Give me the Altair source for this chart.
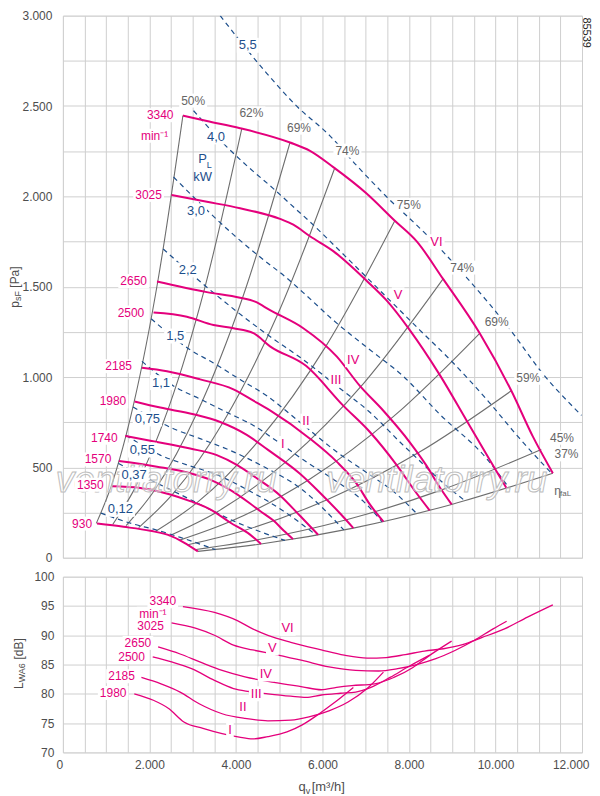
import altair as alt
import pandas as pd

FONT = "Liberation Sans"
MAG = "#e4007c"
BLUE = "#1d4f8c"
EFFC = "#6e6e6e"
GRIDC = "#cfcfcf"
AXC = "#4d4d4d"

W = 520
H_TOP = 543
H_BOT = 176

# ---------------- top panel: pressure curves per speed ----------------
speed_names = ["930", "1350", "1570", "1740", "1980", "2185", "2500", "2650", "3025", "3340"]
q_930 = [789, 1403, 2019, 2481, 2788, 3120]
p_930 = [189, 171, 149, 122, 85, 35]
q_1350 = [1133, 1788, 2481, 2942, 3404, 3865, 4327, 4580]
p_1350 = [395, 386, 350, 313, 268, 195, 128, 76]
q_1570 = [1292, 2174, 2942, 3404, 3865, 4327, 4558, 4875, 5108, 5320]
p_1570 = [535, 504, 468, 432, 375, 300, 259, 204, 149, 103]
q_1740 = [1442, 2174, 2942, 3558, 4020, 4481, 5019, 5481, 5900]
p_1740 = [674, 641, 604, 568, 514, 440, 345, 232, 127]
q_1980 = [1657, 2250, 3020, 3635, 4250, 4742, 5481, 5942, 6404, 6714]
p_1980 = [865, 831, 794, 751, 680, 597, 465, 360, 246, 164]
q_2185 = [1828, 2405, 3173, 3942, 4404, 4788, 5712, 6328, 6789, 7096, 7410]
p_2185 = [1051, 1032, 987, 932, 869, 815, 659, 532, 410, 295, 200]
q_2500 = [2095, 2866, 3480, 3942, 4404, 4788, 5619, 6480, 7096, 7712, 8150, 8478]
p_2500 = [1357, 1334, 1288, 1270, 1243, 1170, 1062, 842, 696, 514, 365, 262]
q_2650 = [2174, 3328, 4096, 4442, 4788, 5557, 6328, 6865, 7403, 8019, 8404, 8711, 8986]
p_2650 = [1529, 1470, 1439, 1417, 1370, 1270, 1114, 951, 815, 639, 510, 390, 295]
q_3025 = [2512, 3328, 4096, 5019, 5327, 5712, 6250, 7020, 7482, 8019, 8711, 9328, 9865, 10258]
p_3025 = [2007, 1970, 1934, 1875, 1843, 1779, 1697, 1533, 1424, 1260, 1012, 761, 542, 384]
q_3340 = [2774, 3328, 4096, 5250, 5712, 6250, 7020, 7673, 8174, 8788, 9635, 10366, 10865, 11326]
p_3340 = [2447, 2417, 2377, 2298, 2252, 2162, 2016, 1865, 1752, 1543, 1242, 924, 670, 468]

# efficiency lines (gray)
eff_names = ["e50", "e62", "e69a", "e74a", "e75", "e74b", "e69b", "e59", "e45", "e37"]
q_e50 = [772, 1121, 1644, 2201, 2774]
p_e50 = [190, 400, 860, 1540, 2447]
q_e62 = [1151, 1671, 2451, 3281, 4135]
p_e62 = [184, 388, 835, 1495, 2375]
q_e69a = [1462, 2122, 3112, 4165, 5250]
p_e69a = [178, 375, 808, 1447, 2298]
q_e74a = [1751, 2542, 3728, 4989, 6288]
p_e74a = [167, 353, 759, 1360, 2160]
q_e75 = [2136, 3101, 4549, 6088, 7673]
p_e75 = [145, 305, 655, 1174, 1865]
q_e74b = [2447, 3552, 5209, 6972, 8788]
p_e74b = [120, 252, 542, 971, 1543]
q_e69b = [2683, 3894, 5712, 7644, 9635]
p_e69b = [96, 203, 436, 782, 1242]
q_e59 = [2886, 4190, 6145, 8224, 10366]
p_e59 = [72, 151, 325, 582, 924]
q_e45 = [3079, 4470, 6555, 8773, 11058]
p_e45 = [46, 98, 210, 377, 599]
q_e37 = [3120, 4578, 6714, 8986, 11326]
p_e37 = [35, 76, 164, 295, 468]

# shaft power lines (dashed)
pow_names = ["5,5", "4,0", "3,0", "2,2", "1,5", "1,1", "0,75", "0,55", "0,37", "0,12"]
q_p55 = [3635, 4712, 5405, 6173, 6789, 7482, 8404, 9327, 10403, 11019, 11988]
p_p55 = [3000, 2681, 2499, 2335, 2171, 1998, 1788, 1552, 1242, 1041, 788]
q_p40 = [3020, 3788, 4250, 4865, 5405, 5712, 6173, 7020, 7712, 8250, 9019, 9788, 10558, 11300]
p_p40 = [2474, 2274, 2170, 2043, 1925, 1859, 1752, 1552, 1388, 1260, 1079, 878, 660, 466]
q_p30 = [2557, 3404, 3942, 4558, 5174, 5635, 6249, 7096, 7865, 8711, 9789, 10308]
p_p30 = [2107, 1907, 1788, 1664, 1548, 1450, 1315, 1151, 1005, 794, 550, 388]
q_p22 = [2318, 3328, 4788, 5557, 6328, 7096, 7865, 8174, 8827, 9296]
p_p22 = [1709, 1497, 1224, 1096, 951, 805, 623, 553, 406, 315]
q_p15 = [2040, 2942, 3480, 4096, 4712, 5481, 6328, 7096, 7650, 8180]
p_p15 = [1323, 1151, 1078, 986, 896, 750, 586, 459, 365, 244]
q_p11 = [1828, 2557, 3173, 3788, 4403, 4973, 5557, 6328, 6942, 7378]
p_p11 = [1087, 951, 878, 805, 732, 641, 542, 422, 313, 199]
q_p075 = [1620, 2557, 3173, 3942, 4712, 5481, 6494]
p_p075 = [834, 714, 659, 586, 495, 386, 154]
q_p055 = [1460, 2250, 2866, 3558, 4327, 5096, 5856]
p_p055 = [678, 568, 514, 459, 368, 259, 125]
q_p037 = [1281, 2095, 2712, 3327, 3942, 4712, 5131]
p_p037 = [522, 422, 350, 276, 204, 131, 96]
q_p012 = [881, 1634, 2095, 2712, 3526]
p_p012 = [247, 186, 158, 113, 45]

# labels top panel
top_spd_t = ["3340", "3025", "2650", "2500", "2185", "1980", "1740", "1570", "1350", "930", "min\u207b\u00b9"]
top_spd_x = [2557, 2289, 1943, 1881, 1597, 1465, 1265, 1119, 942, 674, 2435]
top_spd_y = [2449, 2008, 1531, 1357, 1060, 865, 664, 544, 404, 189, 2335]
roman_t = ["VI", "V", "IV", "III", "II", "I"]
top_rom_x = [8635, 7749, 6711, 6312, 5619, 5082]
top_rom_y = [1749, 1455, 1096, 984, 756, 632]
eff_lbl_t = ["50%", "62%", "69%", "74%", "75%", "74%", "69%", "59%", "45%", "37%"]
eff_lbl_x = [3012, 4357, 5458, 6577, 7996, 9231, 10027, 10758, 11538, 11642]
eff_lbl_y = [2530, 2459, 2380, 2253, 1953, 1606, 1306, 996, 664, 572]
pow_lbl_x = [4274, 3538, 3076, 2885, 2596, 2269, 1954, 1835, 1646, 1327]
pow_lbl_y = [2836, 2329, 1920, 1593, 1227, 969, 768, 596, 459, 268]

# ---------------- bottom panel: sound power ----------------
bot_names = ["I", "II", "III", "IV", "V", "VI"]
lq_I = [1650, 2091, 2444, 2797, 3238, 3680, 4077, 4386, 4739, 5180, 5533, 5886, 6239, 6714]
lw_I = [80.0, 78.9, 77.5, 75.2, 74.1, 73.2, 72.6, 72.3, 72.7, 73.5, 74.7, 76.4, 78.3, 81.1]
lq_II = [1815, 2268, 2709, 3150, 3680, 4209, 4739, 5268, 5709, 6150, 6592, 7033, 7410]
lw_II = [82.8, 81.7, 80.3, 78.3, 76.6, 75.8, 75.4, 75.5, 76.1, 77.1, 78.6, 80.9, 83.7]
lq_III = [2076, 2533, 2974, 3503, 3944, 4297, 4739, 5268, 5621, 5974, 6415, 6768, 7121, 7562, 8004, 8478]
lw_III = [86.3, 85.4, 84.3, 82.3, 80.9, 80.4, 80.0, 79.6, 79.4, 79.8, 80.1, 80.3, 81.1, 82.8, 84.7, 86.6]
lq_IV = [2201, 2709, 3150, 3680, 4209, 4915, 5533, 5974, 6327, 6680, 7209, 7650, 8092, 8445, 8986]
lw_IV = [88.0, 86.8, 85.5, 84.0, 82.9, 81.9, 81.2, 80.7, 81.1, 81.4, 81.7, 82.8, 84.5, 86.4, 89.0]
lq_V = [2512, 3062, 3503, 3944, 4386, 4915, 5533, 6150, 6768, 7297, 7739, 8180, 8621, 9062, 9504, 9945, 10258]
lw_V = [92.1, 91.2, 90.0, 88.3, 87.5, 86.7, 85.7, 84.6, 84.0, 83.9, 84.3, 85.0, 86.0, 87.4, 89.1, 91.1, 92.4]
lq_VI = [2774, 3503, 4033, 4386, 4739, 5268, 5974, 6503, 7033, 7474, 7915, 8356, 8797, 9239, 9680, 10209, 10739, 11326]
lw_VI = [94.9, 93.9, 92.5, 91.1, 90.0, 88.8, 87.5, 86.6, 86.1, 86.2, 86.7, 87.3, 87.7, 88.4, 89.6, 91.1, 93.1, 95.2]

bot_spd_t = ["3340", "min\u207b\u00b9", "3025", "2650", "2500", "2185", "1980"]
bot_spd_x = [2617, 2396, 2335, 2042, 1895, 1664, 1470]
bot_spd_y = [95.8, 93.66, 91.55, 88.7, 86.3, 83.0, 80.15]
bot_rom_x = [5194, 4841, 4691, 4470, 4161, 3861]
bot_rom_y = [91.2, 87.8, 83.4, 80.0, 77.7, 73.8]

watermark_t = ["ventilatorry.ru", "ventilatorry.ru"]
watermark_x = [2388, 8642]
watermark_y = [422, 427]

# approximate glyph widths (em) used only to size the white label boxes
CW = {",": 0.278, ".": 0.278, "%": 0.889, "V": 0.667, "I": 0.278, "m": 0.833,
      "i": 0.222, "n": 0.556, "\u207b": 0.35, "\u00b9": 0.35}


def long_df(names, qs, vs):
    rows = []
    for n, q, v in zip(names, qs, vs):
        for i, (a, b) in enumerate(zip(q, v)):
            rows.append({"s": n, "x": a, "y": b, "i": i})
    return pd.DataFrame(rows)


def lbl_df(t, x, y):
    return pd.DataFrame({"t": t, "x": x, "y": y})


def box_df(t, x, y, fs, align):
    paths = []
    for s in t:
        tw = sum(CW.get(c, 0.556) for c in s) * fs
        w = tw + 4
        h = fs + 2
        if align == "right":
            x0, x1 = -tw - 2, 2
        elif align == "left":
            x0, x1 = -2, tw + 2
        else:
            x0, x1 = -w / 2, w / 2
        paths.append("M%.3f,%.3fH%.3fV%.3fH%.3fZ" % (x0 / 10, -h / 20, x1 / 10, h / 20, x0 / 10))
    return pd.DataFrame({"x": x, "y": y, "path": paths})


df_speed = long_df(speed_names,
                   [q_930, q_1350, q_1570, q_1740, q_1980, q_2185, q_2500, q_2650, q_3025, q_3340],
                   [p_930, p_1350, p_1570, p_1740, p_1980, p_2185, p_2500, p_2650, p_3025, p_3340])
df_eff = long_df(eff_names,
                 [q_e50, q_e62, q_e69a, q_e74a, q_e75, q_e74b, q_e69b, q_e59, q_e45, q_e37],
                 [p_e50, p_e62, p_e69a, p_e74a, p_e75, p_e74b, p_e69b, p_e59, p_e45, p_e37])
df_pow = long_df(pow_names,
                 [q_p55, q_p40, q_p30, q_p22, q_p15, q_p11, q_p075, q_p055, q_p037, q_p012],
                 [p_p55, p_p40, p_p30, p_p22, p_p15, p_p11, p_p075, p_p055, p_p037, p_p012])
df_lw = long_df(bot_names, [lq_I, lq_II, lq_III, lq_IV, lq_V, lq_VI],
                [lw_I, lw_II, lw_III, lw_IV, lw_V, lw_VI])

fmt = "replace(format(datum.value, ','), ',', '.')"
xs = alt.Scale(domain=[0, 12000], nice=False, zero=False)
ys_top = alt.Scale(domain=[0, 3000], nice=False, zero=False)
ys_bot = alt.Scale(domain=[70, 100], nice=False, zero=False)

ax_x_top = alt.Axis(values=list(range(0, 12001, 500)), labels=False, ticks=False, domain=False,
                    grid=True, gridColor=GRIDC, gridWidth=1, title=None)
ax_y_top = alt.Axis(values=list(range(0, 3001, 250)),
                    labelExpr="datum.value % 500 == 0 ? " + fmt + " : ''",
                    ticks=False, domain=False, grid=True, gridColor=GRIDC, gridWidth=1,
                    labelPadding=11, labelFontSize=12, labelFont=FONT, labelColor=AXC,
                    labelOverlap=False, title=None)
ax_x_bot = alt.Axis(values=list(range(0, 12001, 500)),
                    labelExpr="datum.value % 2000 == 0 ? " + fmt + " : ''",
                    ticks=False, domain=False, grid=True, gridColor=GRIDC, gridWidth=1,
                    labelPadding=7, labelFontSize=12, labelFont=FONT, labelColor=AXC,
                    labelOverlap=False, labelFlush=True, labelFlushOffset=7, title=None)
ax_y_bot = alt.Axis(values=[70, 75, 80, 85, 90, 95, 100], ticks=False, domain=False, grid=True,
                    gridColor=GRIDC, gridWidth=1, labelPadding=9, labelFontSize=12,
                    labelFont=FONT, labelColor=AXC, labelOverlap=False, title=None)

XT = alt.X("x:Q", scale=xs, axis=ax_x_top)
YT = alt.Y("y:Q", scale=ys_top, axis=ax_y_top)
XB = alt.X("x:Q", scale=xs, axis=ax_x_bot)
YB = alt.Y("y:Q", scale=ys_bot, axis=ax_y_bot)


def lines(df, X, Y, color, width, dash=None):
    kw = dict(color=color, strokeWidth=width, interpolate="monotone", clip=True)
    if dash:
        kw["strokeDash"] = dash
    return alt.Chart(df).mark_line(**kw).encode(x=X, y=Y, detail="s:N", order="i:Q")


def labels(t, x, y, X, Y, color, fs, align="center", box=True):
    out = []
    if box:
        out.append(alt.Chart(box_df(t, x, y, fs, align)).mark_point(
            filled=True, color="white", opacity=1, strokeWidth=0, size=400
        ).encode(x=X, y=Y, shape=alt.Shape("path:N", scale=None)))
    out.append(alt.Chart(lbl_df(t, x, y)).mark_text(
        align=align, baseline="middle", font=FONT, fontSize=fs, color=color
    ).encode(x=X, y=Y, text="t:N"))
    return out


def ptext(t, x, y, size, color, align="left", angle=0, baseline="middle"):
    return alt.Chart(pd.DataFrame({"t": [t]})).mark_text(
        align=align, baseline=baseline, angle=angle, font=FONT, fontSize=size, color=color
    ).encode(x=alt.value(x), y=alt.value(y), text="t:N")


top_layers = [
    lines(df_eff, XT, YT, EFFC, 1.1),
    lines(df_pow, XT, YT, BLUE, 1.2, [5, 4]),
    lines(df_speed, XT, YT, MAG, 2.0),
    alt.Chart(lbl_df(watermark_t, watermark_x, watermark_y)).mark_text(
        font=FONT, fontSize=37, fontStyle="italic", color="white", fillOpacity=0.45,
        stroke="#bdbdbd", strokeWidth=1
    ).encode(x=XT, y=YT, text="t:N"),
]
top_layers += labels(top_spd_t, top_spd_x, top_spd_y, XT, YT, MAG, 12, align="right")
top_layers += labels(roman_t, top_rom_x, top_rom_y, XT, YT, MAG, 13)
top_layers += labels(eff_lbl_t, eff_lbl_x, eff_lbl_y, XT, YT, "#666666", 12)
top_layers += labels(pow_names, pow_lbl_x, pow_lbl_y, XT, YT, BLUE, 13)
top_layers += labels(["P", "kW"], [3226, 3231], [2204, 2105], XT, YT, BLUE, 13, box=False)
top_layers += labels(["L"], [3381], [2176], XT, YT, BLUE, 9, box=False)
top_layers += labels(["\u03b7"], [11435], [368], XT, YT, "#666666", 12, box=False)
top_layers += labels(["faL"], [11492], [351], XT, YT, "#666666", 8, align="left", box=False)
top_layers += [
    ptext("85539", 523.5, 17, 11, "#222222", align="center", angle=90),
    ptext("p", -48, 292.5, 12, AXC, angle=270),
    ptext("sF", -45, 285.8, 9, AXC, angle=270),
    ptext("[Pa]", -48, 272.5, 12, AXC, angle=270),
]
top = alt.layer(*top_layers).properties(width=W, height=H_TOP)

bot_layers = [lines(df_lw, XB, YB, MAG, 1.3)]
bot_layers += labels(bot_spd_t, bot_spd_x, bot_spd_y, XB, YB, MAG, 12, align="right")
bot_layers += labels(roman_t, bot_rom_x, bot_rom_y, XB, YB, MAG, 13)
bot_layers += [
    ptext("L", -43.5, 112.5, 12, AXC, angle=270),
    ptext("WA6", -40.5, 105.8, 9, AXC, angle=270),
    ptext("[dB]", -43.5, 83, 12, AXC, angle=270),
    ptext("q", 236, 214.5, 13, AXC, baseline="alphabetic"),
    ptext("v", 243.2, 217.5, 9, AXC, baseline="alphabetic"),
    ptext("[m\u00b3/h]", 249.2, 214.5, 13, AXC, baseline="alphabetic"),
]
bottom = alt.layer(*bot_layers).properties(width=W, height=H_BOT)

chart = alt.vconcat(top, bottom, spacing=19, bounds="flush").properties(
    padding={"left": 0, "top": 0, "right": 0, "bottom": 0}
).configure_view(stroke=None).configure(background="white")

chart.save("out.html", embed_options={"renderer": "svg", "actions": False})
